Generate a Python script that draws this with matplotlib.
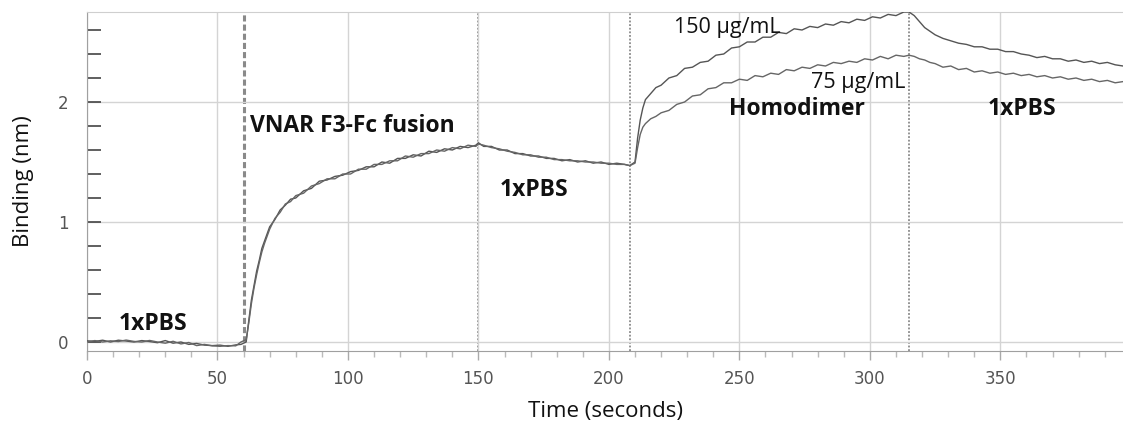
import matplotlib
matplotlib.use("Agg")
import matplotlib.pyplot as plt
from matplotlib.ticker import MultipleLocator

# ---------------- data ----------------
time_s = [0, 3, 6, 9, 12, 15, 18, 21, 24, 27, 30, 33, 36, 39, 42, 45, 48, 51, 54, 57, 59,
          61, 62, 63, 64, 65, 66, 67, 68, 70, 72, 74, 76, 78, 80, 83, 86, 89, 92, 95, 98,
          101, 104, 107, 110, 113, 116, 119, 122, 125, 128, 131, 134, 137, 140, 143, 146, 149, 150,
          152, 155, 158, 161, 164, 167, 170, 173, 176, 179, 182, 185, 188, 191, 194, 197, 200, 203, 206, 208,
          210, 211, 212, 213, 214, 216, 218, 220, 223, 226, 229, 232, 235, 238, 241, 244, 247, 250,
          253, 256, 259, 262, 265, 268, 271, 274, 277, 280, 283, 286, 289, 292, 295, 298, 301, 304,
          307, 310, 313, 315,
          317, 319, 321, 323, 325, 328, 331, 334, 337, 340, 343, 346, 349, 352, 355, 358, 361, 364,
          367, 370, 373, 376, 379, 382, 385, 388, 391, 394, 397]

binding_150 = [0.01, 0.005, 0.015, 0.0, 0.015, 0.008, 0.0, 0.012, 0.004, -0.006, 0.012, -0.01, 0.0, -0.02, -0.012, -0.026, -0.03, -0.026, -0.036, -0.024, -0.02,
               0.0, 0.18, 0.35, 0.47, 0.59, 0.68, 0.78, 0.84, 0.96, 1.02, 1.10, 1.14, 1.19, 1.20, 1.26, 1.28, 1.34, 1.35, 1.38, 1.39,
               1.42, 1.43, 1.46, 1.46, 1.50, 1.49, 1.53, 1.53, 1.56, 1.55, 1.59, 1.58, 1.61, 1.60, 1.63, 1.62, 1.64, 1.66,
               1.63, 1.63, 1.60, 1.60, 1.57, 1.57, 1.55, 1.55, 1.53, 1.53, 1.51, 1.52, 1.50, 1.51, 1.49, 1.50, 1.48, 1.49, 1.48, 1.47,
               1.50, 1.70, 1.85, 1.95, 2.02, 2.07, 2.12, 2.14, 2.20, 2.22, 2.28, 2.29, 2.33, 2.34, 2.39, 2.40, 2.45, 2.46,
               2.50, 2.50, 2.54, 2.54, 2.58, 2.57, 2.61, 2.60, 2.63, 2.62, 2.65, 2.64, 2.67, 2.66, 2.69, 2.68, 2.71, 2.70,
               2.73, 2.72, 2.75, 2.75,
               2.72, 2.67, 2.62, 2.59, 2.56, 2.53, 2.51, 2.49, 2.48, 2.46, 2.46, 2.44, 2.44, 2.42, 2.42, 2.40, 2.39, 2.37,
               2.38, 2.36, 2.36, 2.34, 2.35, 2.33, 2.34, 2.32, 2.33, 2.31, 2.30]

binding_75 = [0.0, 0.012, 0.0, 0.01, 0.004, 0.016, 0.005, 0.0, 0.013, 0.0, -0.01, 0.006, -0.016, -0.004, -0.03, -0.02, -0.032, -0.036, -0.03, -0.032, 0.0,
              0.02, 0.16, 0.32, 0.45, 0.56, 0.66, 0.75, 0.82, 0.94, 1.03, 1.08, 1.15, 1.17, 1.22, 1.24, 1.30, 1.32, 1.36, 1.36, 1.40,
              1.40, 1.44, 1.44, 1.48, 1.48, 1.51, 1.51, 1.55, 1.54, 1.57, 1.57, 1.60, 1.59, 1.62, 1.61, 1.64, 1.63, 1.65,
              1.64, 1.62, 1.61, 1.59, 1.58, 1.56, 1.56, 1.54, 1.54, 1.52, 1.52, 1.51, 1.51, 1.50, 1.50, 1.49, 1.49, 1.48, 1.48, 1.47,
              1.49, 1.62, 1.73, 1.79, 1.82, 1.86, 1.88, 1.91, 1.93, 1.98, 2.00, 2.05, 2.06, 2.11, 2.12, 2.16, 2.16, 2.19,
              2.18, 2.22, 2.21, 2.24, 2.23, 2.27, 2.26, 2.29, 2.28, 2.31, 2.30, 2.33, 2.32, 2.34, 2.33, 2.36, 2.35, 2.38,
              2.36, 2.39, 2.38, 2.39,
              2.38, 2.36, 2.35, 2.33, 2.32, 2.29, 2.30, 2.27, 2.28, 2.25, 2.26, 2.24, 2.25, 2.23, 2.24, 2.22, 2.23, 2.21,
              2.22, 2.20, 2.21, 2.19, 2.20, 2.18, 2.19, 2.17, 2.18, 2.16, 2.17]

step_times = [60, 150, 208, 315]
step_styles = ["dashed", "dotted", "dotted", "dotted"]

x_ticks = [0, 50, 100, 150, 200, 250, 300, 350]
y_ticks = [0, 1, 2]

# (text, x, y, bold)
annotations = [
    ("1xPBS", 12, 0.15, True),
    ("VNAR F3-Fc fusion", 62.5, 1.80, True),
    ("1xPBS", 158, 1.27, True),
    ("Homodimer", 246, 1.94, True),
    ("1xPBS", 345, 1.94, True),
    ("150 μg/mL", 225, 2.62, False),
    ("75 μg/mL", 277.5, 2.165, False),
]

# ---------------- plot ----------------
plt.rcParams['font.family'] = ['Open Sans', 'DejaVu Sans']

fig = plt.figure(figsize=(11.23, 4.26), dpi=100)
ax = fig.add_axes([87 / 1123, 1 - 351 / 426, 1 - 87 / 1123, (351 - 12) / 426])

ax.set_xlim(0, 397)
ax.set_ylim(-0.075, 2.75)

ax.set_xticks(x_ticks)
ax.set_yticks(y_ticks)
ax.xaxis.set_minor_locator(MultipleLocator(10))
ax.yaxis.set_minor_locator(MultipleLocator(0.2))
ax.grid(True, which="major", color="#d4d4d4", linewidth=1.0, zorder=0)

for t, ls in zip(step_times, step_styles):
    if ls == "dashed":
        ax.axvline(t, color="#8a8a8a", linestyle=(0, (2, 1)), linewidth=2.2, zorder=1)
    else:
        ax.axvline(t, color="#8a8a8a", linestyle=(0, (1, 1)), linewidth=1.3, zorder=1)

ax.plot(time_s, binding_150, color="#555555", linewidth=1.0, zorder=3)
ax.plot(time_s, binding_75, color="#666666", linewidth=1.0, zorder=3)

for txt, x, y, bold in annotations:
    ax.text(x, y, txt, fontsize=16.5 if bold else 15.5,
            fontweight="bold" if bold else "normal",
            ha="left", va="center", color="#111111", zorder=4)

ax.spines["right"].set_visible(False)
ax.spines["top"].set_color("#cfcfcf")
ax.spines["left"].set_color("#a0a0a0")
ax.spines["bottom"].set_color("#a0a0a0")

ax.tick_params(axis="y", which="both", direction="in", length=10, width=1.2,
               color="#444444", labelsize=12, labelcolor="#555555", pad=13.5)
ax.tick_params(axis="x", which="major", direction="out", length=6.5, width=1.0,
               color="#aaaaaa", labelsize=12, labelcolor="#555555", pad=7)
ax.tick_params(axis="x", which="minor", direction="out", length=4.5, width=1.0,
               color="#bbbbbb")
for lab in ax.get_xticklabels() + ax.get_yticklabels():
    lab.set_family(["DejaVu Sans"])

ax.set_xlabel("Time (seconds)", fontsize=16, color="#111111")
ax.set_ylabel("Binding (nm)", fontsize=16, color="#111111")
ax.xaxis.set_label_coords(0.5, (351 - 401) / 339)
ax.yaxis.set_label_coords((34 - 87) / 1036, 0.5)

fig.savefig("out.png", dpi=100)
